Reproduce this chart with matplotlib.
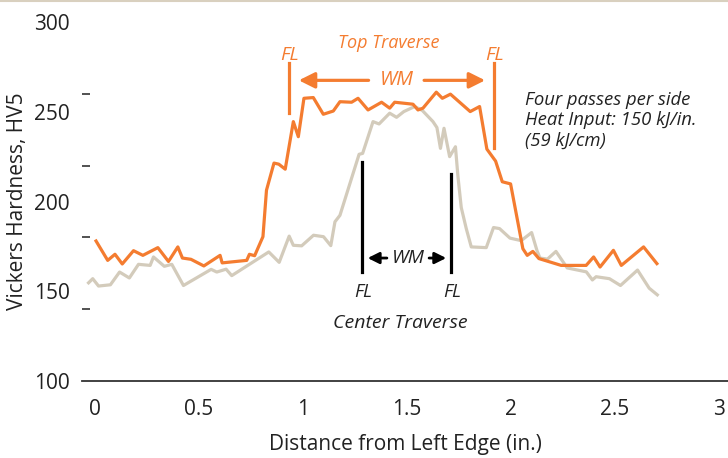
# твердость по Виккерсу поперек шва
import matplotlib.pyplot as plt
from matplotlib.lines import Line2D

# верхний проход
top_x = [0.007, 0.063, 0.098, 0.133, 0.187, 0.232, 0.304, 0.355, 0.400, 0.422,
         0.463, 0.525, 0.603, 0.613, 0.731, 0.744, 0.769, 0.809, 0.826, 0.862,
         0.885, 0.916, 0.955, 0.979, 1.006, 1.051, 1.099, 1.147, 1.179, 1.235,
         1.266, 1.314, 1.379, 1.418, 1.442, 1.530, 1.554, 1.578, 1.642, 1.671,
         1.710, 1.805, 1.850, 1.885, 1.927, 1.959, 1.999, 2.058, 2.079, 2.106,
         2.135, 2.242, 2.362, 2.398, 2.429, 2.493, 2.531, 2.638, 2.702]
top_hv = [178.0, 167.2, 170.6, 165.2, 172.6, 170.0, 174.3, 166.6, 174.7, 168.5,
          167.8, 164.1, 170.0, 165.8, 167.2, 170.6, 169.8, 180.4, 206.3, 221.4,
          220.8, 218.0, 244.5, 236.1, 257.5, 257.9, 248.6, 250.4, 255.6, 255.3,
          257.5, 251.0, 255.3, 252.0, 255.3, 254.2, 251.0, 252.0, 260.9, 257.5,
          259.8, 250.1, 252.9, 229.2, 222.5, 211.0, 209.8, 173.7, 170.0, 172.2,
          168.2, 164.4, 164.4, 169.1, 163.5, 172.8, 164.4, 174.7, 165.4]

# центральный проход
cen_x = [-0.029, -0.009, 0.019, 0.076, 0.120, 0.167, 0.211, 0.267, 0.283, 0.335,
         0.371, 0.427, 0.560, 0.587, 0.632, 0.659, 0.837, 0.887, 0.935, 0.955,
         0.995, 1.052, 1.100, 1.135, 1.155, 1.179, 1.271, 1.288, 1.338, 1.367,
         1.418, 1.451, 1.486, 1.538, 1.575, 1.626, 1.645, 1.662, 1.679, 1.706,
         1.734, 1.746, 1.762, 1.786, 1.810, 1.882, 1.917, 1.946, 1.996, 2.050,
         2.100, 2.126, 2.140, 2.176, 2.217, 2.271, 2.363, 2.392, 2.410, 2.474,
         2.527, 2.609, 2.665, 2.704]
cen_hv = [154.7, 157.0, 152.9, 153.6, 160.7, 157.4, 165.0, 164.4, 169.1, 163.9,
          165.0, 153.2, 162.2, 160.7, 162.3, 158.7, 171.9, 166.1, 180.7, 175.6,
          175.3, 181.2, 180.4, 175.4, 188.7, 192.3, 226.3, 226.8, 244.5, 243.2,
          249.2, 246.9, 250.1, 252.9, 250.7, 244.5, 241.2, 229.6, 240.8, 225.0,
          230.5, 214.0, 196.6, 184.9, 174.7, 174.3, 185.5, 184.9, 179.6, 178.2,
          182.7, 172.6, 168.5, 167.9, 172.2, 163.0, 160.8, 156.3, 158.1, 157.0,
          153.2, 161.8, 151.7, 148.0]

x_ticks = [0, 0.5, 1, 1.5, 2, 2.5, 3]
x_labels = ['0', '0.5', '1', '1.5', '2', '2.5', '3']
y_labels = [100, 150, 200, 250, 300]
y_marks = [100, 140, 180, 220, 260, 300]

orange = '#f47c30'
beige = '#d3cbbb'
dark = '#222222'

plt.rcParams['font.family'] = ['Open Sans', 'DejaVu Sans']

fig = plt.figure(figsize=(7.28, 4.58), dpi=100)
ax = fig.add_axes([82/728, 77/458, 646/728, 359/458])
fig.add_artist(Line2D([0, 1], [0.998, 0.998], transform=fig.transFigure,
                      color='#d9d0bf', lw=1.5))

ax.plot(cen_x, cen_hv, color=beige, lw=2.3, zorder=2)
ax.plot(top_x, top_hv, color=orange, lw=2.3, zorder=3)

ax.set_xlim(-0.0605, 3.0437)
ax.set_ylim(100, 300)

for s in ['left', 'top', 'right']:
    ax.spines[s].set_visible(False)
ax.spines['bottom'].set_color('#333333')
ax.spines['bottom'].set_linewidth(1.3)

ax.set_xticks(x_ticks)
ax.set_xticklabels(x_labels)
ax.set_yticks(y_labels)
ax.set_yticks(y_marks, minor=True)
ax.tick_params(axis='x', length=0, pad=13, labelsize=15, labelcolor=dark)
ax.tick_params(axis='y', which='major', length=0, pad=9, labelsize=15, labelcolor=dark)
ax.tick_params(axis='y', which='minor', direction='in', length=6, width=1.2, color='#333333')

ax.set_xlabel('Distance from Left Edge (in.)', fontsize=15, color=dark, labelpad=10)
ax.set_ylabel('Vickers Hardness, HV5', fontsize=15, color=dark, labelpad=4)

# разметка верхнего прохода
ax.plot([0.935, 0.935], [249.2, 277.1], color=orange, lw=2.3)
ax.plot([1.919, 1.919], [229.6, 277.1], color=orange, lw=2.3)
ax.annotate('', xy=(0.968, 267.5), xytext=(1.33, 267.5),
            arrowprops=dict(arrowstyle='-|>', color=orange, lw=2.3, mutation_scale=24))
ax.annotate('', xy=(1.890, 267.5), xytext=(1.57, 267.5),
            arrowprops=dict(arrowstyle='-|>', color=orange, lw=2.3, mutation_scale=24))
ax.text(1.45, 267.5, 'WM', color=orange, fontsize=14.5, style='italic', ha='center', va='center')
ax.text(0.935, 281.5, 'FL', color=orange, fontsize=14, style='italic', ha='center', va='center')
ax.text(1.922, 281.5, 'FL', color=orange, fontsize=14, style='italic', ha='center', va='center')
ax.text(1.415, 288.3, 'Top Traverse', color=orange, fontsize=13, style='italic', ha='center', va='center')

# разметка центрального прохода
ax.plot([1.286, 1.286], [160.9, 221.8], color='black', lw=2.3)
ax.plot([1.714, 1.714], [160.9, 215.3], color='black', lw=2.3)
ax.annotate('', xy=(1.299, 168.5), xytext=(1.418, 168.5),
            arrowprops=dict(arrowstyle='-|>', color='black', lw=2, mutation_scale=17))
ax.annotate('', xy=(1.703, 168.5), xytext=(1.594, 168.5),
            arrowprops=dict(arrowstyle='-|>', color='black', lw=2, mutation_scale=17))
ax.text(1.506, 168.5, 'WM', color=dark, fontsize=14, style='italic', ha='center', va='center')
ax.text(1.293, 149.8, 'FL', color=dark, fontsize=13.5, style='italic', ha='center', va='center')
ax.text(1.720, 149.8, 'FL', color=dark, fontsize=13.5, style='italic', ha='center', va='center')
ax.text(1.47, 132.4, 'Center Traverse', color=dark, fontsize=14, style='italic', ha='center', va='center')

ax.text(2.068, 261.5, 'Four passes per side\nHeat Input: 150 kJ/in.\n(59 kJ/cm)',
        color=dark, fontsize=13.3, style='italic', ha='left', va='top', linespacing=1.17)

fig.savefig('out.png', dpi=100)
